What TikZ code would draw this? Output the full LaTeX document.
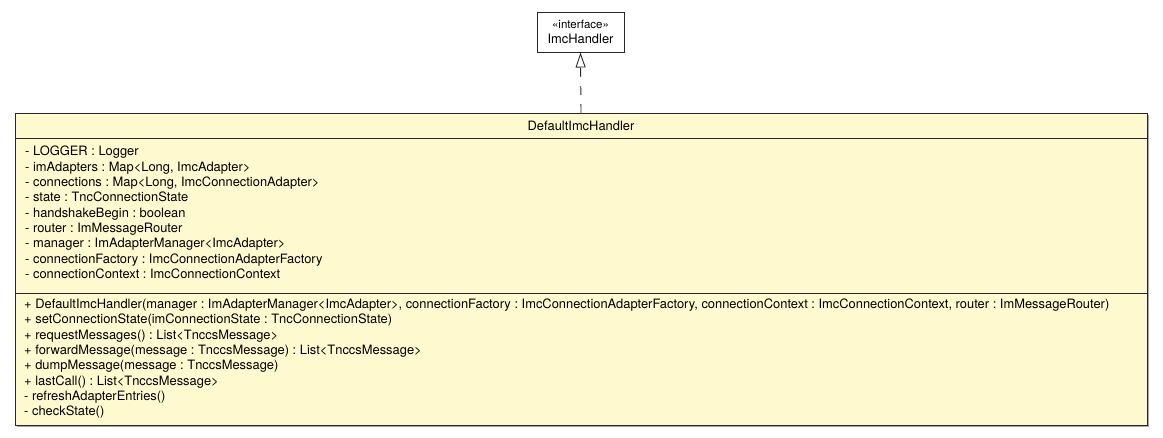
\documentclass[tikz,border=0pt]{standalone}
\usepackage{fontspec}
\setmainfont{TeX Gyre Heros}
\usetikzlibrary{positioning,arrows.meta}
\definecolor{umlfill}{RGB}{255,249,208}
\definecolor{umlline}{RGB}{40,40,40}
\newcommand{\umlfont}{\frenchspacing\fontsize{12.9}{15.35}\selectfont}

\begin{document}
\begin{tikzpicture}[x=1pt, y=-1pt,
    classbox/.style={draw=umlline, fill=umlfill, line width=1pt, minimum width=1132pt, inner sep=0pt, outer sep=0pt},
    members/.style={anchor=north west, align=left, inner sep=0pt, font=\umlfont},
    ifacebox/.style={draw=umlline, fill=white, line width=1pt, minimum width=87pt, minimum height=40pt, align=center, inner sep=0pt, font=\umlfont},
    realize/.style={umlline, line width=0.9pt, dash pattern=on 9pt off 9pt, -{Triangle[open, length=15pt, width=10pt, line width=0.9pt]}}
  ]
  \useasboundingbox (0,0) rectangle (1163,437);

  % shadow
  \fill[black!35] (17,115) rectangle (1149,427);

  \node[ifacebox] (iface) at (580.5,32) {{\fontsize{11.5}{16}\selectfont «interface»}\\ImcHandler};

  \node[classbox, minimum height=25pt, font=\umlfont] (header) at (581,125.5) {DefaultImcHandler};
  \node[classbox, minimum height=155pt, below=0pt of header] (attrs) {};
  \node[classbox, minimum height=132pt, below=0pt of attrs] (ops) {};

  \node[members, below right=8pt and 10pt of attrs.north west] (attrlist) {
    - LOGGER : Logger\\
    - imAdapters : Map<Long, ImcAdapter>\\
    - connections : Map<Long, ImcConnectionAdapter>\\
    - state : TncConnectionState\\
    - handshakeBegin : boolean\\
    - router : ImMessageRouter\\
    - manager : ImAdapterManager<ImcAdapter>\\
    - connectionFactory : ImcConnectionAdapterFactory\\
    - connectionContext : ImcConnectionContext
  };
  \node[members, below right=5.5pt and 9pt of ops.north west] (oplist) {
    + DefaultImcHandler(manager : ImAdapterManager<ImcAdapter>, connectionFactory : ImcConnectionAdapterFactory, connectionContext : ImcConnectionContext, router : ImMessageRouter)\\
    + setConnectionState(imConnectionState : TncConnectionState)\\
    + requestMessages() : List<TnccsMessage>\\
    + forwardMessage(message : TnccsMessage) : List<TnccsMessage>\\
    + dumpMessage(message : TnccsMessage)\\
    + lastCall() : List<TnccsMessage>\\
    - refreshAdapterEntries()\\
    - checkState()
  };

  \draw[realize] (header.north) -- (iface.south);
\end{tikzpicture}
\end{document}
